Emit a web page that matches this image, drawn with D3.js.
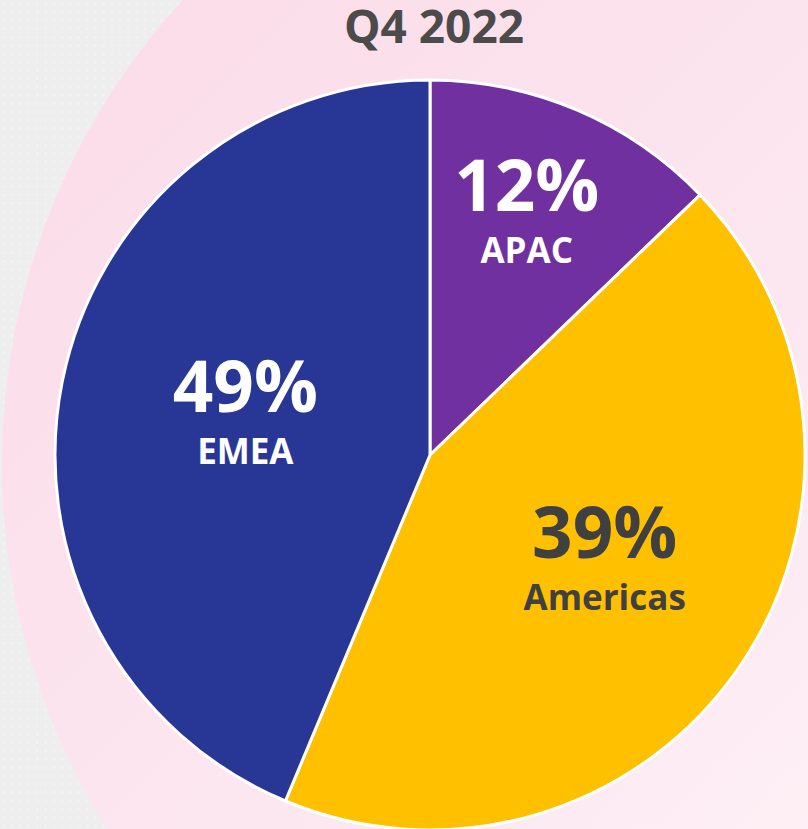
<!DOCTYPE html>
<html>
<head>
  <title>Q4 2022 Regional Split</title>
  <script src="https://d3js.org/d3.v7.min.js"></script>
  <style>
    body { margin: 0; background: #eeeeee; }
    text { font-family: "Open Sans", "Segoe UI", sans-serif; font-weight: bold; }
  </style>
</head>
<body>
  <div id="chart"></div>

  <script>
    // slice sizes as drawn, and the labels printed on them
    var regions = ["APAC", "Americas", "EMEA"];
    var shares = [12.8, 43.5, 43.7];
    var shareLabels = ["12%", "39%", "49%"];
    var title = "Q4 2022";

    var colors = ["#7030a0", "#ffc000", "#283795"];
    var textColors = ["#ffffff", "#404040", "#ffffff"];
    var labelRadius = [0.70, 0.545, 0.505];   // fraction of the pie radius
    var labelNudge = [[-6, -2], [6, -12], [1, -6]];

    var width = 808;
    var height = 829;
    var cx = 430, cy = 455, radius = 375;

    var svg = d3.select("#chart")
      .append("svg")
      .attr("width", width)
      .attr("height", height);

    var defs = svg.append("defs");

    // faint dot texture on the grey backdrop
    var dots = defs.append("pattern")
      .attr("id", "dots")
      .attr("width", 8.3)
      .attr("height", 8.3)
      .attr("patternUnits", "userSpaceOnUse");
    dots.append("circle")
      .attr("cx", 4).attr("cy", 4).attr("r", 1)
      .attr("fill", "#f6f6f6");

    var grad = defs.append("linearGradient")
      .attr("id", "pinkGlow")
      .attr("x1", "0%").attr("y1", "0%")
      .attr("x2", "100%").attr("y2", "100%");
    grad.append("stop").attr("offset", "0%").attr("stop-color", "#fad9e6");
    grad.append("stop").attr("offset", "45%").attr("stop-color", "#fce6ef");
    grad.append("stop").attr("offset", "100%").attr("stop-color", "#fffbfd");

    svg.append("rect")
      .attr("width", width)
      .attr("height", height)
      .attr("fill", "#eeeeee");
    svg.append("rect")
      .attr("width", width)
      .attr("height", height)
      .attr("fill", "url(#dots)");

    // large pink disc behind the pie
    svg.append("circle")
      .attr("cx", 688)
      .attr("cy", 464)
      .attr("r", 686)
      .attr("fill", "url(#pinkGlow)");

    svg.append("text")
      .attr("x", 434)
      .attr("y", 43)
      .attr("text-anchor", "middle")
      .attr("font-size", 46)
      .attr("fill", "#4b4b4b")
      .text(title);

    var data = regions.map(function(r, i) {
      return { region: r, value: shares[i], label: shareLabels[i], i: i };
    });

    var pie = d3.pie()
      .sort(null)
      .value(d => d.value);

    var arcGenerator = d3.arc()
      .innerRadius(0)
      .outerRadius(radius);

    var g = svg.append("g")
      .attr("transform", "translate(" + cx + "," + cy + ")");

    var arcs = g.selectAll(".arc")
      .data(pie(data))
      .enter()
      .append("g")
      .attr("class", "arc");

    arcs.append("path")
      .attr("d", arcGenerator)
      .attr("fill", d => colors[d.data.i])
      .attr("stroke", "#ffffff")
      .attr("stroke-width", 3)
      .attr("stroke-linejoin", "round");

    var labels = arcs.append("g")
      .attr("transform", function(d) {
        var r = radius * labelRadius[d.data.i];
        var a = (d.startAngle + d.endAngle) / 2;
        var n = labelNudge[d.data.i];
        return "translate(" + (r * Math.sin(a) + n[0]) + "," + (-r * Math.cos(a) + n[1]) + ")";
      });

    labels.append("text")
      .attr("y", 0)
      .attr("text-anchor", "middle")
      .attr("font-size", 71)
      .attr("fill", d => textColors[d.data.i])
      .text(d => d.data.label);

    labels.append("text")
      .attr("y", 52)
      .attr("text-anchor", "middle")
      .attr("font-size", 35)
      .attr("fill", d => textColors[d.data.i])
      .text(d => d.data.region);
  </script>
</body>
</html>
